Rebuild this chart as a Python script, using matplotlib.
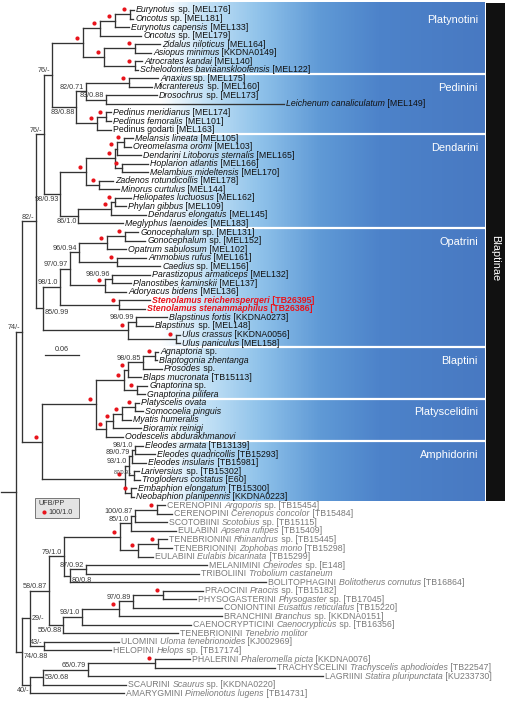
import re
import numpy as np
import matplotlib
matplotlib.use("Agg")
import matplotlib.pyplot as plt
from matplotlib.collections import LineCollection
from matplotlib.colors import LinearSegmentedColormap
from matplotlib.patches import Rectangle
from matplotlib.offsetbox import TextArea, HPacker, AnnotationBbox

plt.rcParams['font.family'] = ['Liberation Sans', 'DejaVu Sans']

# ---------------------------------------------------------------- data
# branch lengths are in bar units: the 0.06 scale bar is 34 units long
UNIT = 0.06 / 34

taxa = [
    "_Eurynotus_ sp. [MEL176]", "_Oncotus_ sp. [MEL181]", "_Eurynotus capensis_ [MEL133]",
    "_Oncotus_ sp. [MEL179]", "_Zidalus niloticus_ [MEL164]", "_Asiopus minimus_ [KKDNA0149]",
    "_Atrocrates kandai_ [MEL140]", "_Schelodontes baviaanskloofensis_ [MEL122]",
    "_Anaxius_ sp. [MEL175]", "_Micrantereus_ sp. [MEL160]", "_Drosochrus_ sp. [MEL173]",
    "_Leichenum canaliculatum_ [MEL149]", "_Pedinus meridianus_ [MEL174]",
    "_Pedinus femoralis_ [MEL101]", "Pedinus godarti [MEL163]",
    "_Melansis lineata_ [MEL105]", "_Oreomelasma oromi_ [MEL103]",
    "_Dendarini Litoborus sternalis_ [MEL165]", "_Hoplarion atlantis_ [MEL166]",
    "_Melambius mideltensis_ [MEL170]", "_Zadenos rotundicollis_ [MEL178]",
    "_Minorus curtulus_ [MEL144]", "_Heliopates luctuosus_ [MEL162]", "_Phylan gibbus_ [MEL109]",
    "_Dendarus elongatus_ [MEL145]", "_Meglyphus laenoides_ [MEL183]",
    "_Gonocephalum_ sp. [MEL131]", "_Gonocephalum_ sp. [MEL152]", "_Opatrum sabulosum_ [MEL102]",
    "_Ammobius rufus_ [MEL161]", "_Caedius_ sp. [MEL156]", "_Parastizopus armaticeps_ [MEL132]",
    "_Planostibes kaminskii_ [MEL137]", "_Adoryacus bidens_ [MEL136]",
    "_Stenolamus reichenspergeri_ [TB26395]", "_Stenolamus stenammaphilus_ [TB26386]",
    "_Blapstinus fortis_ [KKDNA0273]", "_Blapstinus_ sp. [MEL148]",
    "_Ulus crassus_ [KKDNA0056]", "_Ulus paniculus_ [MEL158]",
    "_Agnaptoria_ sp.", "_Blaptogonia zhentanga_", "_Prosodes_ sp.", "_Blaps mucronata_ [TB15113]",
    "_Gnaptorina_ sp.", "_Gnaptorina pilifera_", "_Platyscelis ovata_", "_Somocoelia pinguis_",
    "_Myatis humeralis_", "_Bioramix reinigi_", "_Oodescelis abdurakhmanovi_",
    "_Eleodes armata_ [TB13139]", "_Eleodes quadricollis_ [TB15293]",
    "_Eleodes insularis_ [TB15981]", "_Lariversius_ sp. [TB15302]",
    "_Trogloderus costatus_ [E60]", "_Embaphion elongatum_ [TB15300]",
    "_Neobaphion planipennis_ [KKDNA0223]",
    "CERENOPINI _Argoporis_ sp. [TB15454]", "CERENOPINI _Cerenopus concolor_ [TB15484]",
    "SCOTOBIINI _Scotobius_ sp. [TB15115]", "EULABINI _Apsena rufipes_ [TB15409]",
    "TENEBRIONINI _Rhinandrus_ sp. [TB15445]", "TENEBRIONINI _Zophobas morio_ [TB15298]",
    "EULABINI _Eulabis bicarinata_ [TB15299]", "MELANIMINI _Cheirodes_ sp. [E148]",
    "TRIBOLIINI _Trobolium castaneum_", "BOLITOPHAGINI _Bolitotherus cornutus_ [TB16864]",
    "PRAOCINI _Praocis_ sp. [TB15182]", "PHYSOGASTERINI _Physogaster_ sp. [TB17045]",
    "CONIONTINI _Eusattus reticulatus_ [TB15220]", "BRANCHINI _Branchus_ sp. [KKDNA0151]",
    "CAENOCRYPTICINI _Caenocrypticus_ sp. [TB16356]", "TENEBRIONINI _Tenebrio molitor_",
    "ULOMINI _Uloma tenebrionoides_ [KJ002969]", "HELOPINI _Helops_ sp. [TB17174]",
    "PHALERINI _Phaleromella picta_ [KKDNA0076]",
    "TRACHYSCELINI _Trachyscelis aphodioides_ [TB22547]",
    "LAGRIINI _Statira pluripunctata_ [KU233730]", "SCAURINI _Scaurus_ sp. [KKDNA0220]",
    "AMARYGMINI _Pimelionotus lugens_ [TB14731]",
]
new_taxa = [34, 35]          # highlighted in red
outgroup_from = 58           # taxa drawn in grey

# clades in newick (leaf = index in taxa, '*' = 100/1.0)
platynotini = "((((0:4,1:3)*:15,2:14)*:15,3:41)*:17,((4:25,5:16)*:31,(6:7,7:3)*:31)*:21)*:31"
pedinini = "(((8:29,9:23)*:43,(10:51,11:178)83/0.88:20)82/0.71:10,((12:5,13:5)*:9,14:14)*:21)83/0.88:24"
dendarini = ("(((((15:9,16:7)*:7,17:24)*:2,(18:26,19:26)*:7)*:29,(20:14,21:20)*:13)*:26,"
             "(((22:16,23:11)*:4,24:35)*:33,25:45)86/1.0:18)98/0.93:16")
opatrini = ("((((((26:13,27:20)*:18,28:19)*:28,(29:29,30:43)*:38)96/0.94:9,"
            "((31:38,32:19)98/0.96:7,33:21)*:35)97/0.97:10,(34:31,35:26)*:59)98/1.0:17,"
            "((36:31,37:17)98/0.99:8,(38:4,39:4)*:48)*:85)85/0.99:7")
blaptini = "((((40:3,41:2)*:12,42:19)98/0.85:15,43:13)*:4,(44:10,45:8)*:13)*:28"
platyscelidini = "((((46:4,47:8)*:13,48:9)*:9,49:28)*:7,50:17)*:10"
amphidorini = ("((((51:8,52:20)98/1.0:3,53:14)89/0.79:3,(54:5,55:6)87/0.91:5)93/1.0:4,"
               "(56:5,57:3)*:6)*:83")
outgroup = ("((((((((58:8,59:15)*:22,60:32)100/0.87:4,61:45)85/1.0:11,((62:9,63:14)*:20,64:15)*:18)*:56,"
            "((65:121,66:113)87/0.92:16,67:196)80/0.8:6)79/1.0:15,"
            "(((((68:40,69:33)*:30,70:89)97/0.89:14,71:103)*:37,72:109)93/1.0:19,73:115)55/0.88:14)58/0.87:19,"
            "(74:75,75:67)43/-:14)29/-:8,"
            "((((76:35,77:120)*:67,78:235)65/0.79:45,79:83)53/0.68:13,80:94)40/-:8)74/0.88:6")

blaptinae = ("((((" + platynotini + "," + pedinini + ")76/-:8," + dendarini + ")76/-:8,"
             + opatrini + ")82/-:14,((" + blaptini + "," + platyscelidini + ")*:54,"
             + amphidorini + ")*:20)74/-:6")
newick = "(" + blaptinae + "," + outgroup + "):15"

tribes = ["Platynotini", "Pedinini", "Dendarini", "Opatrini", "Blaptini",
          "Platyscelidini", "Amphidorini"]
tribe_first = [0, 8, 15, 26, 40, 46, 51]
tribe_last = [7, 14, 25, 39, 45, 50, 57]

# ---------------------------------------------------------------- layout helpers
ROW0, ROW_PX = 10, 8.54          # pixel row of first taxon, pixels per taxon


def xp(p):
    return (p - 1) * UNIT


def yp(p):
    return (p - ROW0) / ROW_PX


def parse(s):
    pos = 0

    def node():
        nonlocal pos
        kids = []
        if s[pos] == '(':
            pos += 1
            kids.append(node())
            while s[pos] == ',':
                pos += 1
                kids.append(node())
            pos += 1
        m = re.match(r'([^:,()]*)(?::([\d.]+))?', s[pos:])
        pos += m.end()
        return {'label': m.group(1), 'len': float(m.group(2) or 0), 'kids': kids}
    return node()


def layout(n, x0):
    n['x'] = x0 + n['len'] * UNIT
    if not n['kids']:
        n['y'] = int(n['label'])
        n['n'] = 1
        return
    for k in n['kids']:
        layout(k, n['x'])
    n['y'] = (n['kids'][0]['y'] + n['kids'][-1]['y']) / 2
    n['n'] = sum(k['n'] for k in n['kids'])


tree = parse(newick)
layout(tree, 0.0)

fig = plt.figure(figsize=(5.1, 7.04), dpi=100)
ax = fig.add_axes([0, 0, 1, 1])
ax.set_axis_off()

# ---------------------------------------------------------------- blue tribe band
band_top, band_bot = yp(3), tribe_last[-1] + 0.5
stops = [(100, '#ffffff'), (160, '#ffffff'), (205, '#c4e2f6'), (260, '#8fc2ea'),
         (320, '#609ad6'), (380, '#4d83ca'), (485, '#4879c2')]
lo, hi = stops[0][0], stops[-1][0]
cmap = LinearSegmentedColormap.from_list(
    'band', [((p - lo) / (hi - lo), c) for p, c in stops])
ax.imshow(np.linspace(0, 1, 400)[None, :], cmap=cmap, aspect='auto',
          extent=[xp(lo), xp(hi), band_bot, band_top], zorder=0, interpolation='bilinear')
for i, name in enumerate(tribes):
    if i > 0:
        ax.plot([xp(lo), xp(hi)], [tribe_first[i] - 0.5] * 2, color='white', lw=1.6, zorder=1)
    ax.text(xp(478), tribe_first[i] - 0.5 + 1.62, name, color='white', fontsize=7.9,
            ha='right', va='center', zorder=2)
ax.add_patch(Rectangle((xp(486), band_top), xp(505) - xp(486), band_bot - band_top,
                       color='#111111', lw=0, zorder=1))
ax.text((xp(486) + xp(505)) / 2, yp(258), 'Blaptinae', color='white', fontsize=7.9,
        rotation=270, ha='center', va='center', zorder=2)

# ---------------------------------------------------------------- tree
segs = [[(0, tree['y']), (tree['x'], tree['y'])]]
nodes = []
tips = {}


def collect(n):
    if not n['kids']:
        tips[int(n['label'])] = n['x']
        return
    segs.append([(n['x'], n['kids'][0]['y']), (n['x'], n['kids'][-1]['y'])])
    nodes.append(n)
    for k in n['kids']:
        segs.append([(n['x'], k['y']), (k['x'], k['y'])])
        collect(k)


collect(tree)
ax.add_collection(LineCollection(segs, colors='#333333', linewidths=0.95,
                                 capstyle='projecting', zorder=3))

# support values
label_place = {('83/0.88', 7): 'b', '98/0.93': 'b', '86/1.0': 'b', '85/0.99': 'br',
               '55/0.88': 'b', '80/0.8': 'br', '29/-': 'r', '74/0.88': 'br',
               '53/0.68': 'r', '40/-': 'b'}
PLACE = {'a': ((-1.4, 0.4), 'right', 'bottom'), 'b': ((-0.8, -1.2), 'right', 'top'),
         'br': ((1.4, -0.6), 'left', 'top'), 'r': ((1.4, 0), 'left', 'center')}
for n in nodes:
    lab = n['label']
    if lab == '*':
        ax.plot(n['x'] - 6 * UNIT, n['y'] - 5 / ROW_PX, 'o', color='#e8141c',
                ms=3.0, mec='none', zorder=4)
    elif lab:
        key = label_place.get((lab, n['n']), label_place.get(lab, 'a'))
        off, ha, va = PLACE[key]
        ax.annotate(lab, (n['x'], n['y']), xytext=off, textcoords='offset points',
                    ha=ha, va=va, fontsize=3.9 if lab == '87/0.91' else 5.2,
                    color='#3a3a3a', zorder=4)

# taxon labels
for i, name in enumerate(taxa):
    color, weight = '#111111', 'normal'
    if i in new_taxa:
        color, weight = '#e8141c', 'bold'
    elif i >= outgroup_from:
        color = '#7a7a7a'
    areas = []
    for j, part in enumerate(name.split('_')):
        if part:
            areas.append(TextArea(part, textprops=dict(
                fontsize=6.35, color=color, fontweight=weight,
                style='italic' if j % 2 else 'normal')))
    box = HPacker(children=areas, align='baseline', pad=0, sep=0)
    ab = AnnotationBbox(box, (tips[i], i), xybox=(1.6, 0), boxcoords='offset points',
                        box_alignment=(0, 0.5), frameon=False, pad=0, zorder=5)
    ax.add_artist(ab)

# scale bar
ax.plot([xp(45), xp(45) + 0.06], [yp(355)] * 2, color='#333333', lw=0.9)
ax.text(xp(45) + 0.03, yp(353), '0.06', ha='center', va='bottom', fontsize=5.2,
        color='#333333')

# legend
ax.add_patch(Rectangle((xp(35), yp(498)), xp(79) - xp(35), yp(518) - yp(498),
                       facecolor='#e4e4e4', edgecolor='#777777', lw=0.7, zorder=3))
ax.text(xp(39), yp(503.5), 'UFB/PP', fontsize=5.2, color='#333333', va='center', zorder=4)
ax.plot(xp(44), yp(512), 'o', color='#e8141c', ms=3.0, mec='none', zorder=4)
ax.text(xp(48), yp(512), '100/1.0', fontsize=5.2, color='#333333', va='center', zorder=4)

ax.set_xlim(xp(0), xp(510))
ax.set_ylim(yp(704), yp(0))
fig.savefig('out.png', dpi=100)
